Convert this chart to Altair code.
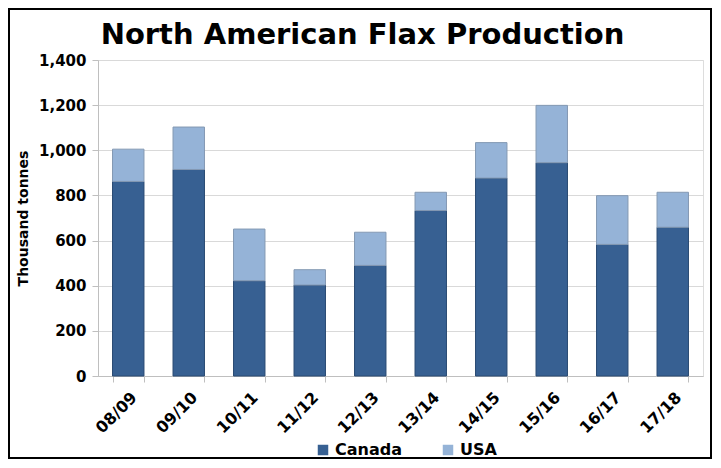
import altair as alt
import pandas as pd

seasons = ["08/09", "09/10", "10/11", "11/12", "12/13", "13/14", "14/15", "15/16", "16/17", "17/18"]
canada = [862, 915, 422, 403, 490, 733, 877, 945, 583, 659]
usa = [143, 188, 229, 68, 147, 81, 157, 254, 216, 155]
series_names = ["Canada", "USA"]
fill_colors = ["#376092", "#95B3D7"]
stroke_colors = ["#2A4B73", "#8499B3"]

rows = []
for i, s in enumerate(seasons):
    rows.append({"season": s, "series": "Canada", "value": canada[i], "order": 0})
    rows.append({"season": s, "series": "USA", "value": usa[i], "order": 1})
df = pd.DataFrame(rows)

FONT = "DejaVu Sans"
W, H = 605, 316

bars = alt.Chart(df).mark_bar(strokeWidth=1).encode(
    x=alt.X(
        "season:N",
        sort=seasons,
        scale=alt.Scale(paddingInner=0.48, paddingOuter=0.24),
        axis=alt.Axis(
            title=None, labelAngle=-45, labelFont=FONT, labelFontWeight="bold",
            labelFontSize=16, labelColor="black", tickBand="extent", tickSize=6,
            tickColor="#BFBFBF", domainColor="#BFBFBF", labelPadding=7,
        ),
    ),
    y=alt.Y(
        "value:Q",
        stack="zero",
        scale=alt.Scale(domain=[0, 1400]),
        axis=alt.Axis(
            values=list(range(0, 1401, 200)), format=",d", title="Thousand tonnes",
            labelFont=FONT, labelFontWeight="bold", labelFontSize=15, labelColor="black",
            titleFont=FONT, titleFontWeight="bold", titleFontSize=14, titleColor="black",
            tickSize=6, tickColor="#BFBFBF", domainColor="#BFBFBF", labelPadding=6,
            gridColor="#D9D9D9", titleX=-75, titleY=H / 2, titleBaseline="middle",
            titleAlign="center", titleAngle=270,
        ),
    ),
    color=alt.Color(
        "series:N",
        scale=alt.Scale(domain=series_names, range=fill_colors),
        legend=alt.Legend(
            title=None, orient="none", direction="horizontal", legendX=217, legendY=382,
            symbolType="square", symbolSize=110, labelFont=FONT, labelFontWeight="bold",
            labelFontSize=16, labelColor="black", columnPadding=38, labelOffset=4,
            symbolStrokeWidth=0,
        ),
    ),
    stroke=alt.Stroke("series:N", scale=alt.Scale(domain=series_names, range=stroke_colors), legend=None),
    order=alt.Order("order:Q"),
)

frame = alt.Chart(alt.Data(values=[{}])).mark_rect(
    fillOpacity=0, stroke="black", strokeWidth=2
).encode(
    x=alt.value(-89), x2=alt.value(W + 8), y=alt.value(-51), y2=alt.value(H + 82)
)

chart = alt.layer(bars, frame).properties(
    width=W,
    height=H,
    autosize="none",
    padding={"left": 90, "top": 52, "right": 10, "bottom": 84},
    title=alt.TitleParams(
        "North American Flax Production", font=FONT, fontSize=29, fontWeight="bold",
        color="black", anchor="middle", dx=-38, dy=54, offset=12, frame="group",
    ),
).configure_view(stroke=None).configure(background="white")

chart.save("out.html", embed_options={"renderer": "svg", "actions": False})
